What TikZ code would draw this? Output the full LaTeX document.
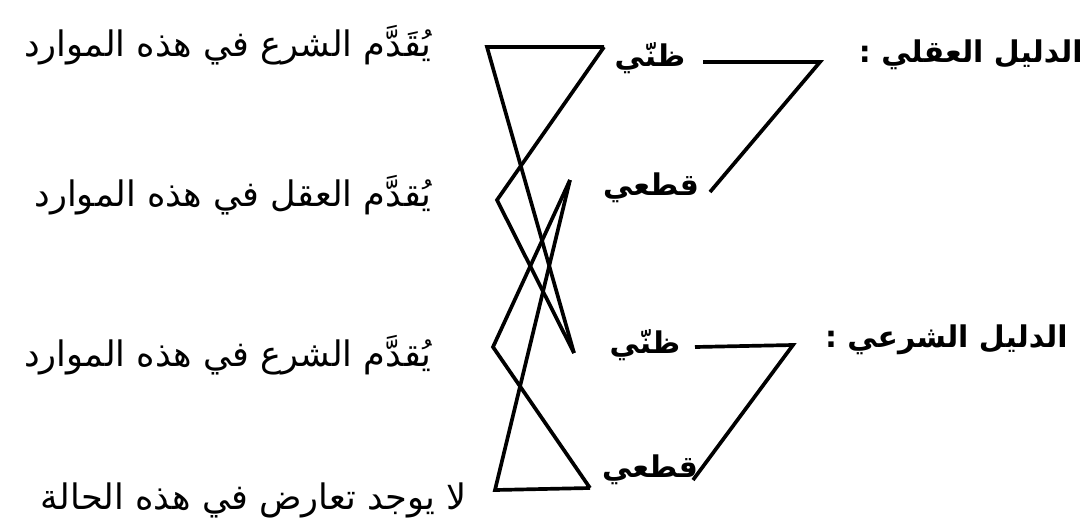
\documentclass[tikz,border=0pt]{standalone}
\usepackage{fontspec}
\newfontfamily\arabicfont[Script=Arabic]{DejaVu Sans}
\TeXXeTstate=1

\tikzset{
  outcome/.style={font=\arabicfont\fontsize{20}{24}\selectfont, anchor=east, inner sep=0pt},
  term/.style={font=\arabicfont\bfseries\fontsize{17}{20}\selectfont, inner sep=0pt},
  wire/.style={line width=2.1pt, line join=miter}
}

\begin{document}
\begin{tikzpicture}[x=0.02cm,y=-0.02cm]
\useasboundingbox (0,0) rectangle (1083,525);

% Outcomes (left column)
\node[outcome] (o1) at (432,45) {\beginR يُقَدَّم الشرع في هذه الموارد\endR};
\node[outcome] (o2) at (432,195) {\beginR يُقدَّم العقل في هذه الموارد\endR};
\node[outcome] (o3) at (432,355) {\beginR يُقدَّم الشرع في هذه الموارد\endR};
\node[outcome] (o4) at (467,500) {\beginR لا يوجد تعارض في هذه الحالة\endR};

% Kinds of evidence
\node[term] (aqz) at (650,58) {\beginR ظنّي\endR};
\node[term] (aqq) at (651,188) {\beginR قطعي\endR};
\node[term] (shz) at (645,345) {\beginR ظنّي\endR};
\node[term] (shq) at (650,470) {\beginR قطعي\endR};

% Headings
\node[term, anchor=east] (aql) at (1083,55) {\beginR الدليل العقلي :\endR};
\node[term, anchor=east] (shr) at (1068,340) {\beginR الدليل الشرعي :\endR};

% Vertices on the left
\coordinate (v1) at (487,47);
\coordinate (v2) at (497,200);
\coordinate (v3) at (493,347);
\coordinate (v4) at (495,490);
% Ends next to the terms
\coordinate (e1) at (604,47);
\coordinate (e2) at (570,180);
\coordinate (e3) at (574,353);
\coordinate (e4) at (590,488);

% Crossing lines
\draw[wire] (e1) -- (v1) -- (e3);
\draw[wire] (e1) -- (v2) -- (e3);
\draw[wire] (e2) -- (v3) -- (e4);
\draw[wire] (e2) -- (v4) -- (e4);

% Brackets on the right
\coordinate (b1) at (820,62);
\coordinate (b2) at (793,345);
\draw[wire] (703,62) -- (b1) -- (710,192);
\draw[wire] (695,347) -- (b2) -- (693,480);

\end{tikzpicture}
\end{document}
